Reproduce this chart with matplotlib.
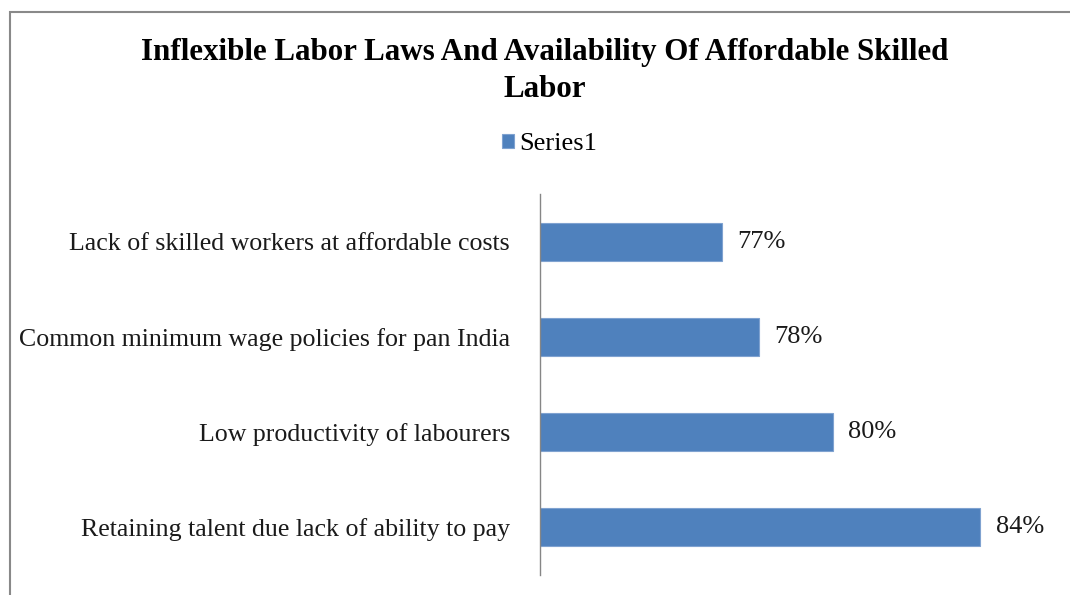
import matplotlib
matplotlib.use("Agg")
import matplotlib.pyplot as plt
from matplotlib.patches import Rectangle

categories = ["Lack of skilled workers at affordable costs",
              "Common minimum wage policies for pan India",
              "Low productivity of labourers",
              "Retaining talent due lack of ability to pay"]
values = [77, 78, 80, 84]
series_name = "Series1"
title = "Inflexible Labor Laws And Availability Of Affordable Skilled\nLabor"

plt.rcParams['font.family'] = ['Liberation Serif', 'DejaVu Serif']

W, H = 1070, 595
fig = plt.figure(figsize=(W/100, H/100), dpi=100)

# outer chart border (runs off right and bottom edges)
fig.patches.append(Rectangle((9.5/W, -0.2), 1.2, (H-12)/H + 0.2, transform=fig.transFigure,
                             fill=False, edgecolor='#898989', linewidth=1.5, clip_on=False))

ax = fig.add_axes([540/W, (H-575)/H, (1056-540)/W, (575-194)/H])
ypos = list(range(len(categories)))
bars = ax.barh(ypos, values, height=0.4, color='#4F81BD', edgecolor='#7FA2D0', linewidth=0.8,
               left=0, label=series_name)
ax.set_xlim(72.05, 86.05)
ax.set_ylim(len(categories) - 0.5, -0.5)
ax.set_yticks(ypos)
ax.set_yticklabels(categories, fontsize=18.6, color='#1a1a1a')
ax.tick_params(axis='y', length=0, pad=21.6)
ax.set_xticks([])
for s in ['top', 'right', 'bottom']:
    ax.spines[s].set_visible(False)
ax.spines['left'].set_color('#868686')
ax.spines['left'].set_linewidth(1.0)

for yp, v in zip(ypos, values):
    ax.annotate(f"{v}%", xy=(v, yp), xytext=(11, 0), textcoords='offset points',
                va='center', ha='left', fontsize=19, color='#1a1a1a')

fig.text(545/W, 1 - 97/H, title, ha='center', va='baseline', fontsize=22.3, fontweight='bold',
         linespacing=1.35)

leg = fig.legend(handles=[bars], labels=[series_name], loc='center', bbox_to_anchor=(550/W, 1 - 144/H),
                 frameon=False, fontsize=19, handlelength=0.45, handleheight=0.45, handletextpad=0.2)

fig.savefig("out.png", dpi=100)
